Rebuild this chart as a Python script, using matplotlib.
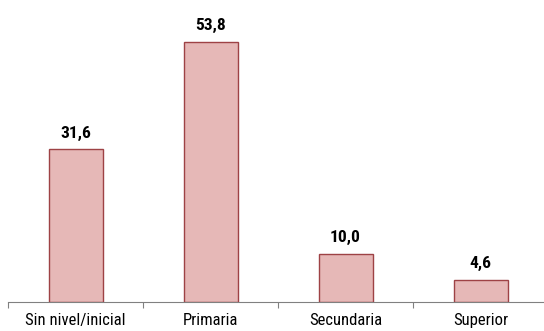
import matplotlib
matplotlib.use("Agg")
import matplotlib.pyplot as plt
from matplotlib import font_manager

categorias = ["Sin nivel/inicial", "Primaria", "Secundaria", "Superior"]
valores = [31.6, 53.8, 10.0, 4.6]

# fuente condensada tipo Arial Narrow, si existe con negrita
disponibles = {}
for f in font_manager.fontManager.ttflist:
    disponibles.setdefault(f.name, set()).add((str(f.weight), f.style))
preferidas = ['Liberation Sans Narrow', 'Arial Narrow', 'Roboto Condensed',
              'Open Sans Condensed', 'Archivo Narrow', 'Asap Condensed', 'Barlow Condensed']
familia = 'Liberation Sans'
for n in preferidas:
    pesos = disponibles.get(n, set())
    if ('400', 'normal') in pesos and ('700', 'normal') in pesos:
        familia = n
        break
plt.rcParams['font.family'] = [familia, 'DejaVu Sans']

fig = plt.figure(figsize=(5.44, 3.31), dpi=100)
ax = fig.add_axes([8 / 544, 29 / 331, 540 / 544, 302 / 331])

x = range(len(categorias))
ax.bar(x, valores, width=0.40, color='#E6B8B7', edgecolor='#9E4245', linewidth=1)

for i, v in zip(x, valores):
    ax.text(i, v + 2.4, f"{v:.1f}".replace(".", ","), ha='center', va='baseline',
            fontsize=12.5, fontweight='bold')

ax.set_xlim(-0.5, len(categorias) - 0.5)
ax.set_ylim(0, 62.5)
ax.set_xticks([i - 0.5 for i in range(len(categorias) + 1)])
ax.set_xticklabels([""] * (len(categorias) + 1))
ax.set_xticks(list(x), minor=True)
ax.set_xticklabels(categorias, minor=True, fontsize=12)
ax.tick_params(axis='x', which='minor', length=0, pad=8)
ax.tick_params(axis='x', which='major', length=4, color='#808080')
ax.set_yticks([])
for s in ['top', 'right', 'left']:
    ax.spines[s].set_visible(False)
ax.spines['bottom'].set_color('#808080')

fig.savefig("out.png", dpi=100)
